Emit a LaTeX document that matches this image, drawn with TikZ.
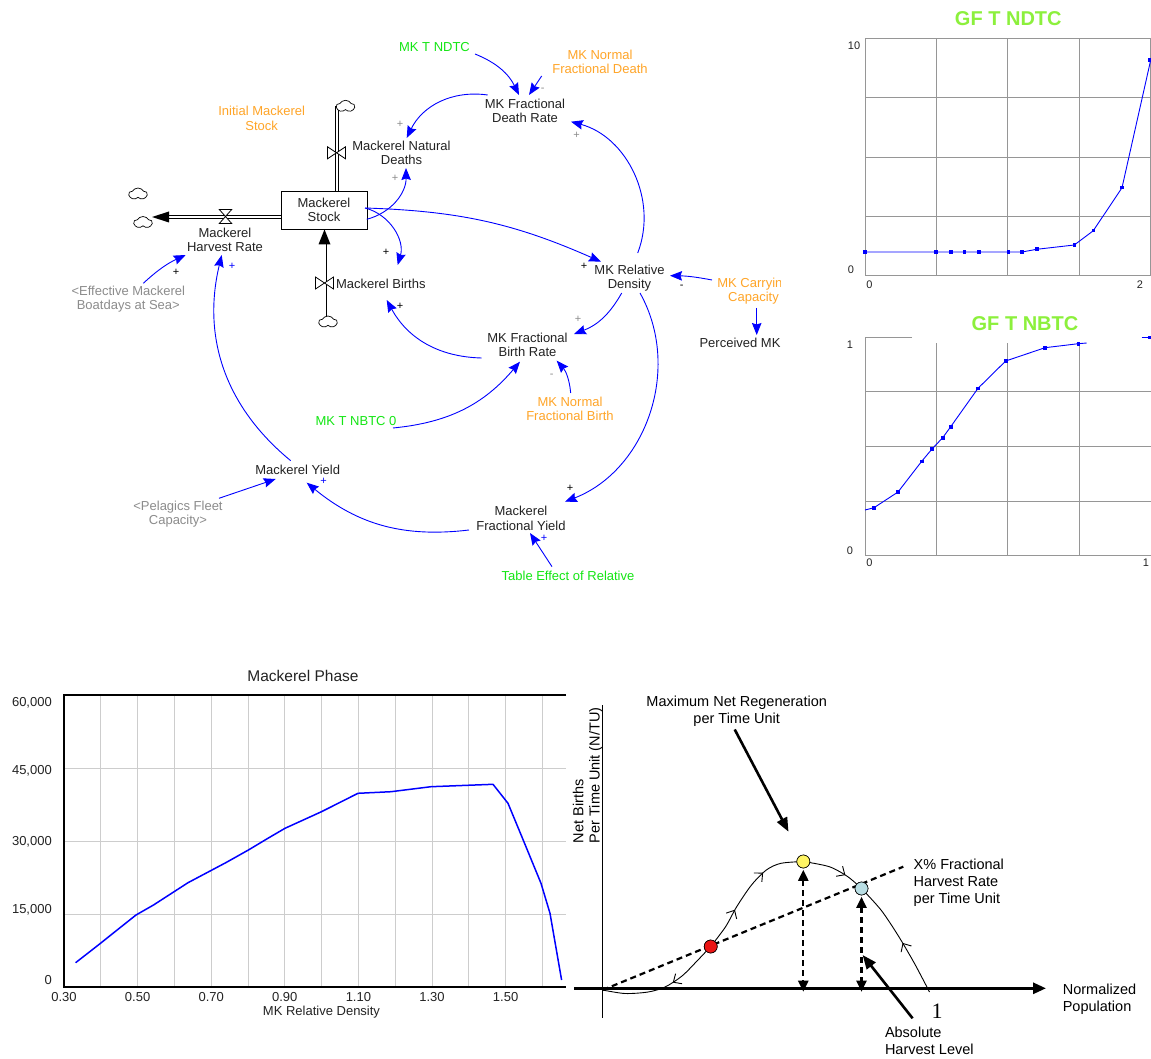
\documentclass[tikz,border=0pt]{standalone}
\usepackage{fontspec}
\setmainfont{Liberation Sans}
\newfontfamily\numserif{Liberation Serif}
\usetikzlibrary{arrows.meta,calc,shapes.symbols,decorations.markings}

\definecolor{vgreen}{RGB}{20,230,20}
\definecolor{vorange}{RGB}{255,165,40}
\definecolor{vgray}{RGB}{140,140,140}
\definecolor{vtext}{RGB}{35,35,35}
\definecolor{gfgreen}{RGB}{140,240,60}
\definecolor{gridgray}{RGB}{150,150,150}
\definecolor{phasegrid}{RGB}{205,205,205}
\definecolor{ptred}{RGB}{235,20,20}
\definecolor{ptyellow}{RGB}{255,245,100}
\definecolor{ptcyan}{RGB}{185,222,228}

\tikzset{chev/.tip={Straight Barb[length=6.5pt,width=12pt]}}

\begin{document}
\begin{tikzpicture}[x=1pt,y=-1pt,
  var/.style={font=\fontsize{13}{14.2}\selectfont, align=center, inner sep=0pt, text=vtext},
  orangevar/.style={var, text=vorange},
  greenvar/.style={var, text=vgreen},
  shadowvar/.style={var, text=vgray},
  stockbox/.style={var, draw=black, line width=0.8pt, minimum width=86pt, minimum height=38pt},
  link/.style={draw=blue, line width=0.9pt, -{Stealth[length=12pt,width=9.5pt,inset=1.5pt]}},
  pol/.style={font=\fontsize{11}{11}\selectfont, inner sep=0pt},
  pipe/.style={draw=black, line width=0.8pt, double=white, double distance=2.4pt},
  cloudnode/.style={cloud, cloud puffs=5, cloud puff arc=120, aspect=1.5, draw=black,
    line width=0.7pt, fill=white, inner sep=0pt, minimum width=18pt, minimum height=12pt},
  hvalve/.pic={\draw[line width=0.8pt, fill=white] (-9,-6) -- (-9,6) -- (9,-6) -- (9,6) -- cycle;},
  vvalve/.pic={\draw[line width=0.8pt, fill=white] (-6.2,-7) -- (6.2,-7) -- (-6.2,7) -- (6.2,7) -- cycle;},
  gftitle/.style={font=\fontsize{20}{20}\selectfont\bfseries, text=gfgreen, inner sep=0pt},
  gfgrid/.style={draw=gridgray, line width=1pt},
  gfcurve/.style={draw=blue, line width=0.9pt},
  gftick/.style={font=\fontsize{11}{12}\selectfont, inner sep=0pt, text=vtext},
  phgrid/.style={draw=phasegrid, line width=1pt},
  phlbl/.style={font=\fontsize{13}{14}\selectfont, inner sep=0pt, text=vtext},
  rtxt/.style={font=\fontsize{14.5}{17}\selectfont, inner sep=0pt, text=black},
  eqpt/.style={circle, draw=black, line width=0.6pt, minimum size=13pt, inner sep=0pt},
  curveline/.style={draw=black, line width=0.9pt},
  harvline/.style={draw=black, line width=2.2pt, dash pattern=on 6pt off 4pt},
  dblarrow/.style={harvline, {Triangle[length=11pt,width=10pt]}-{Triangle[length=11pt,width=10pt]}},
  bigarrow/.style={draw=black, line width=2.6pt, -{Triangle[length=14pt,width=11pt]}}
]
\useasboundingbox (0,0) rectangle (1151,1059);
\fill[white] (0,0) rectangle (1151,1059);

% ================= stock and flow structure =================
\node[stockbox] (stock) at (324,210) {Mackerel\\Stock};

\coordinate (cLpos) at (143,222.5);
\coordinate (cXpos) at (138,194);
\coordinate (cTpos) at (345.5,106.3);
\coordinate (cBpos) at (328,322);

\coordinate (hp) at ($(stock.west)+(0,7)$);
\coordinate (dp) at ($(stock.north)+(12.7,0)$);
\coordinate (bp) at ($(stock.south)+(0.5,0)$);
\coordinate (hcl) at (hp -| cLpos);
\coordinate (htip) at ($(hcl)+(9,0)$);
\coordinate (bcl) at (bp |- cBpos);
\coordinate (dcl) at (dp |- cTpos);

% harvest outflow
\draw[pipe] (hp) -- ($(htip)+(16,0)$);
\fill (htip) -- ++(17,-5.5) -- ++(0,11) -- cycle;
% births inflow
\draw[pipe] (bcl) -- ($(bp)+(0,14)$);
\fill (bp) -- ++(-6,15) -- ++(12,0) -- cycle;
% natural deaths outflow
\draw[pipe] (dp) -- (dcl);

\node[cloudnode] (cloudL) at (cLpos) {};
\node[cloudnode] (cloudX) at (cXpos) {};
\node[cloudnode] (cloudT) at (cTpos) {};
\node[cloudnode] (cloudB) at (cBpos) {};

\pic at (225.5,216.5) {vvalve};
\pic at (324.5,283) {hvalve};
\pic at (336.5,152.8) {hvalve};

% variables
\node[var] (harv) at (225,240) {Mackerel\\Harvest Rate};
\node[var] (births) at (380.8,284) {Mackerel Births};
\node[var] (deaths) at (401.5,152.7) {Mackerel Natural\\Deaths};
\node[orangevar] (initst) at (261.7,118.3) {Initial Mackerel\\Stock};
\node[greenvar] (ndtc) at (434.5,47) {MK T NDTC};
\node[orangevar] (nfd) at (600,62) {MK Normal\\Fractional Death};
\node[var] (fdr) at (525,110.5) {MK Fractional\\Death Rate};
\node[var] (rd) at (629.5,278) {MK Relative\\Density};
\begin{scope}
  \clip (680,270) rectangle (780.5,360);
  \node[orangevar] (cap) at (753.5,291.5) {MK Carryin\hphantom{g}\\Capacity};
  \node[var] (perc) at (740,343.3) {Perceived MK};
\end{scope}
\node[var] (fbr) at (527.5,344.7) {MK Fractional\\Birth Rate};
\node[orangevar] (nfb) at (570,408.7) {MK Normal\\Fractional Birth};
\node[greenvar] (nbtc) at (356,421) {MK T NBTC 0};
\node[var] (yf) at (521,518.3) {Mackerel\\Fractional Yield};
\node[greenvar] (tabeff) at (568,576) {Table Effect of Relative};
\node[var] (yield) at (297.7,470) {Mackerel Yield};
\node[shadowvar] (boat) at (128.3,299) {<Effective Mackerel\\Boatdays at Sea>};
\node[shadowvar] (pel) at (178,514.3) {<Pelagics Fleet\\Capacity>};

% causal links
\draw[link] ($(ndtc)+(40.5,7)$) to[bend left=21] ($(fdr)+(-6,-15.5)$);
\draw[link] ($(nfd)+(-58.3,14)$) -- ($(fdr)+(4,-15.5)$);
\draw[link] ($(fdr)+(-37.3,-15.5)$) to[bend right=36] ($(deaths)+(5.2,-14.7)$);
\draw[link] ($(stock)+(42.7,9.3)$) to[bend right=38] ($(deaths)+(4.5,15.3)$);
\draw[link] ($(stock)+(41,-2)$) to[bend left=46] ($(births)+(16.9,-19)$);
\draw[link] ($(stock)+(41,-2)$) to[bend left=11] ($(rd)+(-28.5,-16.3)$);
\draw[link] ($(rd)+(8.2,-25)$) to[bend right=48] ($(fdr)+(46,11.2)$);
\draw[link] ($(cap)+(-41.5,-11.5)$) to[bend right=5] ($(rd)+(40.5,-2.3)$);
\draw[link] ($(cap)+(3.2,16.5)$) -- ($(perc)+(16.7,-8.3)$);
\draw[link] ($(rd)+(-7.8,15)$) to[bend left=20] ($(fbr)+(46.5,-10.7)$);
\draw[link] ($(fbr)+(-45.8,13.3)$) to[bend left=30] ($(births)+(5.9,16)$);
\draw[link] ($(rd)+(10.5,15)$) to[bend left=49] ($(yf)+(44,-16.6)$);
\draw[link] ($(nbtc)+(37,7)$) to[bend right=22] ($(fbr)+(-7.5,17)$);
\draw[link] ($(nfb)+(0.7,-15.7)$) to[bend right=18] ($(fbr)+(29.2,16)$);
\draw[link] ($(yf)+(-52,11.7)$) to[bend left=23] ($(yield)+(9,12.7)$);
\draw[link] ($(tabeff)+(-16,-9.3)$) -- ($(yf)+(9,14.7)$);
\draw[link] ($(yield)+(-7,-9.3)$) to[bend left=32] ($(harv)+(-3.3,15)$);
\draw[link] ($(boat)+(15,-15.7)$) to[bend left=9] ($(harv)+(-39.3,15)$);
\draw[link] ($(pel)+(41,-16)$) -- ($(yield)+(-22,9)$);

% link polarities
\node[pol,text=vgray] (p1) at (542.7,90) {-};
\node[pol,text=vgray] (p2) at (400,124.7) {+};
\node[pol,text=vgray] (p3) at (395,178) {+};
\node[pol] (p4) at (386,252) {+};
\node[pol] (p5) at (584,266.7) {+};
\node[pol,text=vgray] (p6) at (576.7,135) {+};
\node[pol] (p7) at (681.7,287.3) {-};
\node[pol,text=vgray] (p8) at (578,319) {+};
\node[pol] (p9) at (400,306.7) {+};
\node[pol] (p10) at (570,488) {+};
\node[pol,text=vgray] (p11) at (551.7,376) {-};
\node[pol,text=blue] (p12) at (323.5,481) {+};
\node[pol,text=blue] (p13) at (544,538.7) {+};
\node[pol,text=blue] (p14) at (232,266.7) {+};
\node[pol] (p15) at (176,272.3) {+};

% ================= graphical function: GF T NDTC =================
\node[gftitle] (ndtcT) at (1008.3,18.5) {GF T NDTC};
\draw[gfgrid] (865,38.3) rectangle (1150.7,276);
\foreach \gx in {936.4,1007.8,1079.2} \draw[gfgrid] (\gx,38.3) -- (\gx,276);
\foreach \gy in {97.7,157.1,216.5} \draw[gfgrid] (865,\gy) -- (1150.7,\gy);
\draw[gfcurve] (865,252) -- (936,252) -- (951,252) -- (964.3,252) -- (979,252) -- (1008.3,252)
  -- (1022,252) -- (1036.7,249.3) -- (1074.3,245) -- (1093.3,230.7) -- (1122,187.7) -- (1150.7,60);
\foreach \px/\py in {865/252, 936/252, 951/252, 964.3/252, 979/252, 1008.3/252, 1022/252,
  1036.7/249.3, 1074.3/245, 1093.3/230.7, 1122/187.7, 1150/60}
  \fill[blue] (\px-1.8,\py-1.8) rectangle (\px+1.8,\py+1.8);
\node[gftick] at (854,46) {10};
\node[gftick] at (850.8,269.8) {0};
\node[gftick] at (869.5,284.7) {0};
\node[gftick] at (1140,285) {2};

% ================= graphical function: GF T NBTC =================
\node[gftitle] (nbtcT) at (1025,323.3) {GF T NBTC};
\draw[gfgrid] (912,337.3) -- (865,337.3) -- (865,555.7) -- (1151,555.7);
\foreach \gx in {936.4,1007.8,1079.2} \draw[gfgrid] (\gx,343.3) -- (\gx,555.7);
\foreach \gy in {391.9,446.5,501.1} \draw[gfgrid] (865,\gy) -- (1151,\gy);
\draw[gfcurve] (865,510) -- (874,507.7) -- (898,492) -- (921.7,461.3) -- (932,449) -- (942.7,437.7)
  -- (950.7,426.7) -- (978,388.3) -- (1005.7,361) -- (1045,347.7) -- (1078.3,343.7) -- (1086.7,343);
\draw[gfcurve] (1141.7,337.3) -- (1151,337.3);
\foreach \px/\py in {874/507.7, 898/492, 921.7/461.3, 932/449, 942.7/437.7, 950.7/426.7,
  978/388.3, 1005.7/361, 1045/347.7, 1078.3/343.7, 1150/337.3}
  \fill[blue] (\px-1.8,\py-1.8) rectangle (\px+1.8,\py+1.8);
\node[gftick] at (850,344.3) {1};
\node[gftick] at (850,551) {0};
\node[gftick] at (869.5,563) {0};
\node[gftick] at (1146,563) {1};

% ================= phase plot =================
\node[font=\fontsize{15.5}{16}\selectfont, inner sep=0pt, text=vtext] (phT) at (303,676) {Mackerel Phase};
\foreach \k in {1,...,13} \draw[phgrid] (64+\k*36.8,695) -- (64+\k*36.8,986.7);
\foreach \gy in {768.3,841.7,914.3} \draw[phgrid] (64,\gy) -- (566,\gy);
\draw[line width=2pt] (566,695) -- (64,695) -- (64,986.7) -- (566,986.7);
\node[phlbl, anchor=east] at (52,703) {60,000};
\node[phlbl, anchor=east] at (52,771) {45,000};
\node[phlbl, anchor=east] at (52,841.7) {30,000};
\node[phlbl, anchor=east] at (52,909.3) {15,000};
\node[phlbl, anchor=east] at (52,980) {0};
\foreach \v/\lx in {0.30/64, 0.50/137.6, 0.70/211.2, 0.90/284.8, 1.10/358.4, 1.30/432, 1.50/505.6}
  \node[phlbl] at (\lx,997) {\v};
\node[phlbl] (phX) at (321.5,1012) {MK Relative Density};
\draw[blue, line width=1.5pt, line join=round] (75.6,962.7) -- (87.7,953.3) -- (100.5,943.3) -- (115,931.7)
  -- (136,915) -- (153.5,905) -- (188,882.7) -- (226.5,862.3) -- (248.4,850) -- (266.7,839)
  -- (285,828.3) -- (321.5,811.7) -- (358,793.3) -- (391,791.7) -- (431,786.7) -- (475,785)
  -- (493,784.3) -- (508,803.3) -- (522.5,838.3) -- (541,883.3) -- (550,913.3) -- (561.6,980);

% ================= regeneration sketch =================
\coordinate (O) at (602.6,990);
\coordinate (xa0) at (574.4,988.3);
\coordinate (xa1) at (1046,988.3);
\coordinate (ya0) at (602.6,705);
\coordinate (ya1) at (602.6,1018.3);
\draw[line width=0.9pt] (ya0) -- (ya1);
\draw[line width=2.8pt, -{Triangle[length=13pt,width=11pt]}] (xa0) -- (xa1);

\node[rtxt, rotate=90, anchor=west] (ylab1) at (578.1,843.3) {Net Births};
\node[rtxt, rotate=90, anchor=west] (ylab2) at (595.9,843.3) {Per Time Unit (N/TU)};
\node[rtxt, align=center] (maxlbl) at (736.7,711) {Maximum Net Regeneration\\per Time Unit};
\node[rtxt, align=left, anchor=west] (xlbl) at (913.5,882.5) {X\% Fractional\\Harvest Rate\\per Time Unit};
\node[rtxt, align=left, anchor=west] (npop) at (1062.6,999.2) {Normalized\\Population};
\node[rtxt, align=left, anchor=west] (abs) at (884.8,1041) {Absolute\\Harvest Level};
\node[font=\numserif\fontsize{22}{22}\selectfont, inner sep=0pt] (one) at (937,1011.7) {1};

\coordinate (hend) at (903.3,866.7);
\draw[harvline] (O) -- (hend);

\node[eqpt, fill=ptred] (red) at (710.7,946.5) {};
\node[eqpt, fill=ptyellow] (yellow) at (803.3,861.5) {};
\node[eqpt, fill=ptcyan] (cyan) at (861.5,888.5) {};

\draw[curveline, postaction=decorate,
  decoration={markings, mark=at position 0.42 with {\arrow{chev}}}]
  plot[smooth] coordinates {(red.center) (697,961) (682,976) (665,987) (648,992) (625,993.5) (O)};
\draw[curveline, postaction=decorate,
  decoration={markings, mark=at position 0.33 with {\arrow{chev}}, mark=at position 0.68 with {\arrow{chev}}}]
  plot[smooth] coordinates {(red.center) (725.6,926.7) (736.7,906.7) (751.5,885) (766.3,870) (781,863.3) (yellow.center)};
\draw[curveline, postaction=decorate,
  decoration={markings, mark=at position 0.68 with {\arrow{chev}}}]
  plot[smooth] coordinates {(yellow.center) (829.3,866.7) (847.8,876.7) (cyan.center)};
\draw[curveline, postaction=decorate,
  decoration={markings, mark=at position 0.45 with {\arrow{chev}}}]
  plot[smooth] coordinates {(929.5,992) (914.4,963.3) (897.8,935) (881,910) (cyan.center)};

\node[eqpt, fill=ptred] at (red) {};
\node[eqpt, fill=ptyellow] at (yellow) {};
\node[eqpt, fill=ptcyan] at (cyan) {};

\draw[dblarrow] ($(yellow.south)+(0,1.5)$) -- ($(yellow |- O)+(0,1.7)$);
\draw[dblarrow] ($(cyan.south)+(0,1.5)$) -- ($(cyan |- O)+(0,1.7)$);

\draw[bigarrow] ($(maxlbl.south)+(-2,3)$) -- ($(yellow)+(-14.8,-29.8)$);
\draw[bigarrow] ($(abs.west)+(27.8,-22.7)$) -- ($(cyan)+(1.1,66.5)$);
\end{tikzpicture}
\end{document}
